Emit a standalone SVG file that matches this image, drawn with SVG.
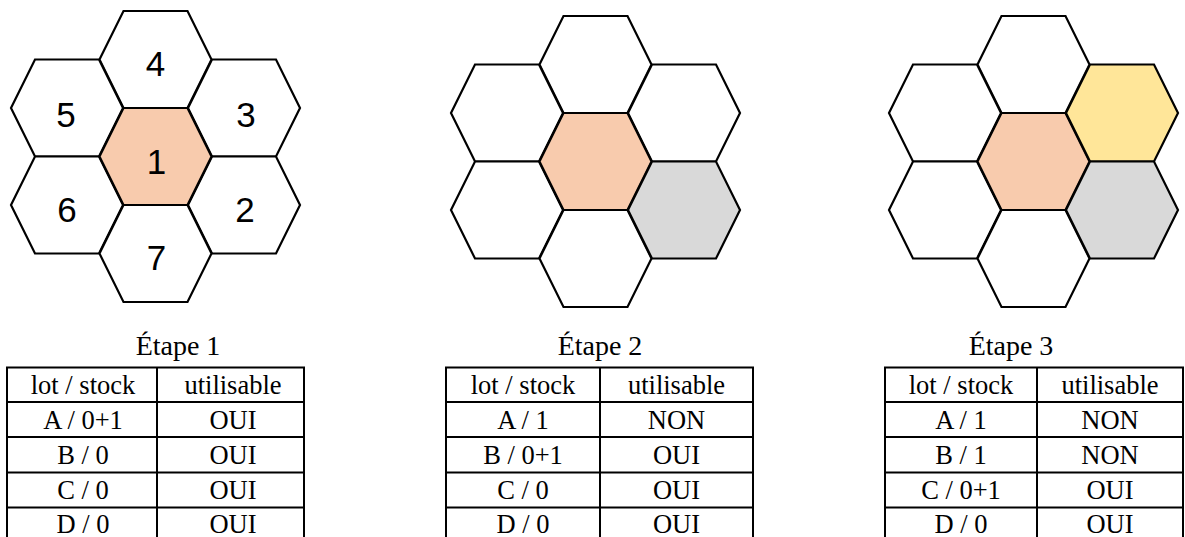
<svg xmlns="http://www.w3.org/2000/svg" width="1185" height="537" viewBox="0 0 1185 537">
  <style>
    .hex { stroke: #000; stroke-width: 2.2; stroke-linejoin: miter; }
    .white { fill: #ffffff; }
    .peach { fill: #F8CBAD; }
    .grey { fill: #D9D9D9; }
    .yellow { fill: #FFE699; }
    .num { font-family: "Liberation Sans", Arial, sans-serif; font-size: 35px; fill: #000; text-anchor: middle; }
    .title { font-family: "Liberation Serif", "Times New Roman", serif; font-size: 28px; fill: #000; text-anchor: middle; }
    .cell { font-family: "Liberation Serif", "Times New Roman", serif; font-size: 26.5px; fill: #000; text-anchor: middle; }
    .grid { fill: none; stroke: #000; stroke-width: 2; }
  </style>
  <defs>
    <!-- flat-top hexagon centred on the origin -->
    <polygon id="hexShape" points="-56,0 -32,-48.5 32,-48.5 56,0 32,48.5 -32,48.5"/>
  </defs>

  <!-- Cluster 1 : numbered cells -->
  <g id="cluster1">
    <g id="c1-hex4"><use href="#hexShape" class="hex white" x="155.5" y="59.5"/><text class="num" x="155.5" y="75.5">4</text></g>
    <g id="c1-hex5"><use href="#hexShape" class="hex white" x="67" y="108"/><text class="num" x="66" y="126.5">5</text></g>
    <g id="c1-hex3"><use href="#hexShape" class="hex white" x="244" y="108"/><text class="num" x="246" y="126.5">3</text></g>
    <g id="c1-hex6"><use href="#hexShape" class="hex white" x="67" y="205"/><text class="num" x="67" y="222">6</text></g>
    <g id="c1-hex2"><use href="#hexShape" class="hex white" x="244" y="205"/><text class="num" x="245" y="222">2</text></g>
    <g id="c1-hex7"><use href="#hexShape" class="hex white" x="155.5" y="253.5"/><text class="num" x="156.5" y="269.5">7</text></g>
    <g id="c1-hex1"><use href="#hexShape" class="hex peach" x="155.5" y="156.5"/><text class="num" x="156.5" y="173.5">1</text></g>
  </g>

  <!-- Cluster 2 -->
  <g id="cluster2" transform="translate(440,5)">
    <g id="c2-hex4"><use href="#hexShape" class="hex white" x="155.5" y="59.5"/></g>
    <g id="c2-hex5"><use href="#hexShape" class="hex white" x="67" y="108"/></g>
    <g id="c2-hex3"><use href="#hexShape" class="hex white" x="244" y="108"/></g>
    <g id="c2-hex6"><use href="#hexShape" class="hex white" x="67" y="205"/></g>
    <g id="c2-hex7"><use href="#hexShape" class="hex white" x="155.5" y="253.5"/></g>
    <g id="c2-hex1"><use href="#hexShape" class="hex peach" x="155.5" y="156.5"/></g>
    <g id="c2-hex2"><use href="#hexShape" class="hex grey" x="244" y="205"/></g>
  </g>

  <!-- Cluster 3 -->
  <g id="cluster3" transform="translate(878,5)">
    <g id="c3-hex4"><use href="#hexShape" class="hex white" x="155.5" y="59.5"/></g>
    <g id="c3-hex5"><use href="#hexShape" class="hex white" x="67" y="108"/></g>
    <g id="c3-hex6"><use href="#hexShape" class="hex white" x="67" y="205"/></g>
    <g id="c3-hex7"><use href="#hexShape" class="hex white" x="155.5" y="253.5"/></g>
    <g id="c3-hex1"><use href="#hexShape" class="hex peach" x="155.5" y="156.5"/></g>
    <g id="c3-hex3"><use href="#hexShape" class="hex yellow" x="244" y="108"/></g>
    <g id="c3-hex2"><use href="#hexShape" class="hex grey" x="244" y="205"/></g>
  </g>

  <!-- Step 1 table -->
  <g id="table1">
    <text class="title" x="178" y="355">Étape 1</text>
    <rect class="grid" x="7" y="367.5" width="297" height="175"/>
    <path class="grid" d="M157,367.5V542.5M7,402H304M7,437H304M7,472.5H304M7,507.5H304"/>
    <text class="cell" x="83" y="393.5">lot / stock</text><text class="cell" x="233" y="393.5">utilisable</text>
    <text class="cell" x="83" y="428.5">A / 0+1</text><text class="cell" x="233" y="428.5">OUI</text>
    <text class="cell" x="83" y="463.5">B / 0</text><text class="cell" x="233" y="463.5">OUI</text>
    <text class="cell" x="83" y="498.5">C / 0</text><text class="cell" x="233" y="498.5">OUI</text>
    <text class="cell" x="83" y="532.5">D / 0</text><text class="cell" x="233" y="532.5">OUI</text>
  </g>

  <!-- Step 2 table -->
  <g id="table2">
    <text class="title" x="600" y="355">Étape 2</text>
    <rect class="grid" x="446" y="367.5" width="307" height="175"/>
    <path class="grid" d="M600,367.5V542.5M446,402H753M446,437H753M446,472.5H753M446,507.5H753"/>
    <text class="cell" x="523" y="393.5">lot / stock</text><text class="cell" x="676.5" y="393.5">utilisable</text>
    <text class="cell" x="523" y="428.5">A / 1</text><text class="cell" x="676.5" y="428.5">NON</text>
    <text class="cell" x="523" y="463.5">B / 0+1</text><text class="cell" x="676.5" y="463.5">OUI</text>
    <text class="cell" x="523" y="498.5">C / 0</text><text class="cell" x="676.5" y="498.5">OUI</text>
    <text class="cell" x="523" y="532.5">D / 0</text><text class="cell" x="676.5" y="532.5">OUI</text>
  </g>

  <!-- Step 3 table -->
  <g id="table3">
    <text class="title" x="1011" y="355">Étape 3</text>
    <rect class="grid" x="885" y="367.5" width="298" height="175"/>
    <path class="grid" d="M1037,367.5V542.5M885,402H1183M885,437H1183M885,472.5H1183M885,507.5H1183"/>
    <text class="cell" x="961" y="393.5">lot / stock</text><text class="cell" x="1110" y="393.5">utilisable</text>
    <text class="cell" x="961" y="428.5">A / 1</text><text class="cell" x="1110" y="428.5">NON</text>
    <text class="cell" x="961" y="463.5">B / 1</text><text class="cell" x="1110" y="463.5">NON</text>
    <text class="cell" x="961" y="498.5">C / 0+1</text><text class="cell" x="1110" y="498.5">OUI</text>
    <text class="cell" x="961" y="532.5">D / 0</text><text class="cell" x="1110" y="532.5">OUI</text>
  </g>
</svg>
